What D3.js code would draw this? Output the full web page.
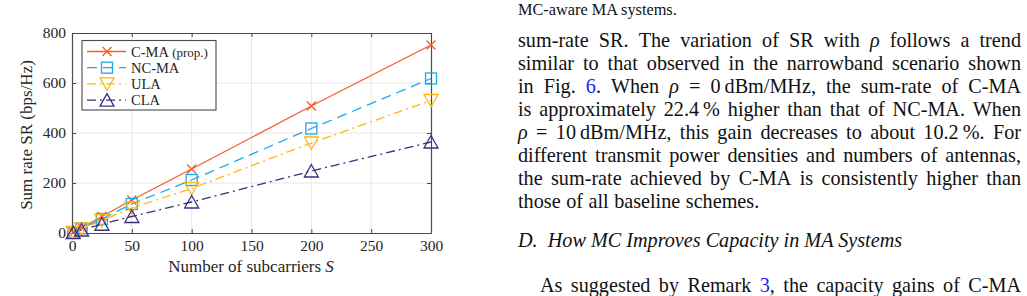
<!DOCTYPE html>
<html lang="en">
<head>
    <meta charset="UTF-8">
    <title>sum_rate_vs_subcarriers</title>
    <script src="https://cdn.jsdelivr.net/npm/d3@7"></script>
    <style>
        body { margin: 0; background: #fff; }
        svg { display: block; }
    </style>
</head>
<body>
    <svg width="1027" height="296" id="mainsvg"></svg>
    <script>
        // data
        const subcarriers = [1, 8, 25, 50, 100, 200, 300];
        const srCMA  = [3, 22, 66, 132, 256, 508, 752];
        const srNCMA = [2.5, 19, 56, 116, 212, 418, 618];
        const srULA  = [2, 16, 50, 100, 178, 360, 530];
        const srCLA  = [1.5, 12, 35, 66, 124, 248, 364];
        const seriesNames = ['C-MA', 'NC-MA', 'ULA', 'CLA'];
        const xTicks = [0, 50, 100, 150, 200, 250, 300];
        const yTicks = [0, 200, 400, 600, 800];

        const svg = d3.select('svg');
        const chartFont = 'Liberation Serif, Times New Roman, serif';
        const axisColor = '#4a4a4a';

        const xScale = d3.scaleLinear().domain([0, 300]).range([72, 431]);
        const yScale = d3.scaleLinear().domain([0, 800]).range([233, 33]);

        const styles = [
            {color: '#f55b28', dash: null, marker: 'cross'},
            {color: '#1aa9ee', dash: '10,6', marker: 'square'},
            {color: '#fdb812', dash: '9,4,2,4', marker: 'down'},
            {color: '#3c2f7c', dash: '9,4,2,4', marker: 'up'}
        ];
        const allSeries = [srCMA, srNCMA, srULA, srCLA].map((vals, i) => ({
            name: seriesNames[i],
            style: styles[i],
            points: subcarriers.map((s, j) => ({s: s, v: vals[j]}))
        }));

        // grid
        const grid = svg.append('g');
        grid.selectAll('.gx').data(xTicks.slice(1, -1)).enter().append('line')
            .attr('x1', d => xScale(d)).attr('x2', d => xScale(d))
            .attr('y1', yScale(0)).attr('y2', yScale(800))
            .attr('stroke', '#e6e6e6').attr('stroke-width', 1);
        grid.selectAll('.gy').data(yTicks.slice(1, -1)).enter().append('line')
            .attr('x1', xScale(0)).attr('x2', xScale(300))
            .attr('y1', d => yScale(d)).attr('y2', d => yScale(d))
            .attr('stroke', '#e6e6e6').attr('stroke-width', 1);

        // axes, ticks point inward like matlab
        const xAxis = d3.axisBottom(xScale).tickValues(xTicks).tickSizeInner(-4).tickSizeOuter(0).tickPadding(7);
        const yAxis = d3.axisLeft(yScale).tickValues(yTicks).tickSizeInner(-4).tickSizeOuter(0).tickPadding(6);
        const xTop = d3.axisTop(xScale).tickValues(xTicks).tickSizeInner(-4).tickSizeOuter(0).tickFormat('');
        const yRight = d3.axisRight(yScale).tickValues(yTicks).tickSizeInner(-4).tickSizeOuter(0).tickFormat('');

        const gx = svg.append('g').attr('transform', `translate(0,${yScale(0)})`).call(xAxis);
        const gy = svg.append('g').attr('transform', `translate(${xScale(0)},0)`).call(yAxis);
        const gt = svg.append('g').attr('transform', `translate(0,${yScale(800)})`).call(xTop);
        const gr = svg.append('g').attr('transform', `translate(${xScale(300)},0)`).call(yRight);
        [gx, gy, gt, gr].forEach(g => {
            g.select('.domain').attr('stroke', axisColor).attr('stroke-width', 1.2);
            g.selectAll('.tick line').attr('stroke', axisColor);
            g.selectAll('.tick text').attr('fill', '#262626')
                .attr('font-family', chartFont).attr('font-size', '15.5px');
        });

        // axis titles
        svg.append('text')
            .attr('x', 251).attr('y', 272)
            .attr('text-anchor', 'middle')
            .attr('font-family', chartFont).attr('font-size', '17px').attr('fill', '#262626')
            .text('Number of subcarriers ')
            .append('tspan').attr('font-style', 'italic').text('S');
        svg.append('text')
            .attr('transform', 'translate(32,135) rotate(-90)')
            .attr('text-anchor', 'middle')
            .attr('font-family', chartFont).attr('font-size', '17px').attr('fill', '#262626')
            .text('Sum rate SR (bps/Hz)');

        // markers
        function drawMarker(g, type, x, y, color) {
            if (type === 'cross') {
                g.append('path').attr('d', `M${x-4.5},${y-4.5}L${x+4.5},${y+4.5}M${x-4.5},${y+4.5}L${x+4.5},${y-4.5}`)
                    .attr('stroke', color).attr('stroke-width', 1.3).attr('fill', 'none');
            } else if (type === 'square') {
                g.append('rect').attr('x', x - 5.5).attr('y', y - 5.5).attr('width', 11).attr('height', 11)
                    .attr('stroke', color).attr('stroke-width', 1.3).attr('fill', 'none');
            } else if (type === 'down') {
                g.append('path').attr('d', `M${x-7},${y-6}L${x+7},${y-6}L${x},${y+6.5}Z`)
                    .attr('stroke', color).attr('stroke-width', 1.3).attr('fill', 'none');
            } else {
                g.append('path').attr('d', `M${x-7},${y+6}L${x+7},${y+6}L${x},${y-6.5}Z`)
                    .attr('stroke', color).attr('stroke-width', 1.3).attr('fill', 'none');
            }
        }

        const line = d3.line().x(d => xScale(d.s)).y(d => yScale(d.v));
        const plot = svg.append('g');
        allSeries.forEach(sr => {
            plot.append('path').datum(sr.points)
                .attr('d', line)
                .attr('fill', 'none')
                .attr('stroke', sr.style.color)
                .attr('stroke-width', 1.3)
                .attr('stroke-dasharray', sr.style.dash);
        });
        allSeries.forEach(sr => {
            sr.points.forEach(p => drawMarker(plot, sr.style.marker, xScale(p.s), yScale(p.v), sr.style.color));
        });

        // legend
        const legend = svg.append('g');
        legend.append('rect').attr('x', 82).attr('y', 40.5).attr('width', 134).attr('height', 69.5)
            .attr('fill', '#fff').attr('stroke', axisColor).attr('stroke-width', 1.1);
        allSeries.forEach((sr, i) => {
            const ly = 51.5 + i * 16.2;
            legend.append('line').attr('x1', 87).attr('x2', 126).attr('y1', ly).attr('y2', ly)
                .attr('stroke', sr.style.color).attr('stroke-width', 1.3)
                .attr('stroke-dasharray', sr.style.dash);
            drawMarker(legend, sr.style.marker, 107, ly, sr.style.color);
            const t = legend.append('text').attr('x', 131).attr('y', ly + 5)
                .attr('font-family', chartFont).attr('font-size', '14.5px').attr('fill', '#262626')
                .text(sr.name);
            if (i === 0) t.append('tspan').attr('font-size', '13px').text(' (prop.)');
        });

        // page text on the right
        const textFont = 'Liberation Serif, Times New Roman, serif';
        svg.append('text').attr('x', 518).attr('y', 15)
            .attr('font-family', textFont).attr('font-size', '16.3px').attr('fill', '#111')
            .text('MC-aware MA systems.');

        const bodyLines = [
            {s: 'sum-rate SR. The variation of SR with _ρ_ follows a trend', j: true},
            {s: 'similar to that observed in the narrowband scenario shown', j: true},
            {s: 'in Fig. {6}. When _ρ_ = 0\u2009dBm/MHz, the sum-rate of C-MA', j: true},
            {s: 'is approximately 22.4\u2009% higher than that of NC-MA. When', j: true},
            {s: '_ρ_ = 10\u2009dBm/MHz, this gain decreases to about 10.2\u2009%. For', j: true},
            {s: 'different transmit power densities and numbers of antennas,', j: true},
            {s: 'the sum-rate achieved by C-MA is consistently higher than', j: true},
            {s: 'those of all baseline schemes.', j: false}
        ];
        const textLeft = 518, textRight = 1021;

        function drawWords(str, x0, x1, y, justify) {
            const words = str.split(' ');
            const nodes = words.map(w => {
                const t = svg.append('text').attr('y', y)
                    .attr('font-family', textFont).attr('font-size', '20.2px').attr('fill', '#111');
                w.split(/(_[^_]+_|\{[^}]+\})/).filter(p => p.length).forEach(p => {
                    if (p[0] === '_') t.append('tspan').attr('font-style', 'italic').text(p.slice(1, -1));
                    else if (p[0] === '{') t.append('tspan').attr('fill', '#1f1fff').text(p.slice(1, -1));
                    else t.append('tspan').text(p);
                });
                return t;
            });
            const widths = nodes.map(n => n.node().getComputedTextLength());
            const total = d3.sum(widths);
            const gap = justify && nodes.length > 1 ? (x1 - x0 - total) / (nodes.length - 1) : 5.5;
            let x = x0;
            nodes.forEach((n, i) => { n.attr('x', x); x += widths[i] + gap; });
        }

        bodyLines.forEach((l, i) => drawWords(l.s, textLeft, textRight, 47 + i * 22.95, l.j));

        svg.append('text').attr('x', textLeft).attr('y', 247)
            .attr('font-family', textFont).attr('font-size', '20.2px').attr('font-style', 'italic').attr('fill', '#111')
            .text('D.\u2002How MC Improves Capacity in MA Systems');

        drawWords('As suggested by Remark {3}, the capacity gains of C-MA', 540, textRight, 292, true);
    </script>
</body>
</html>
